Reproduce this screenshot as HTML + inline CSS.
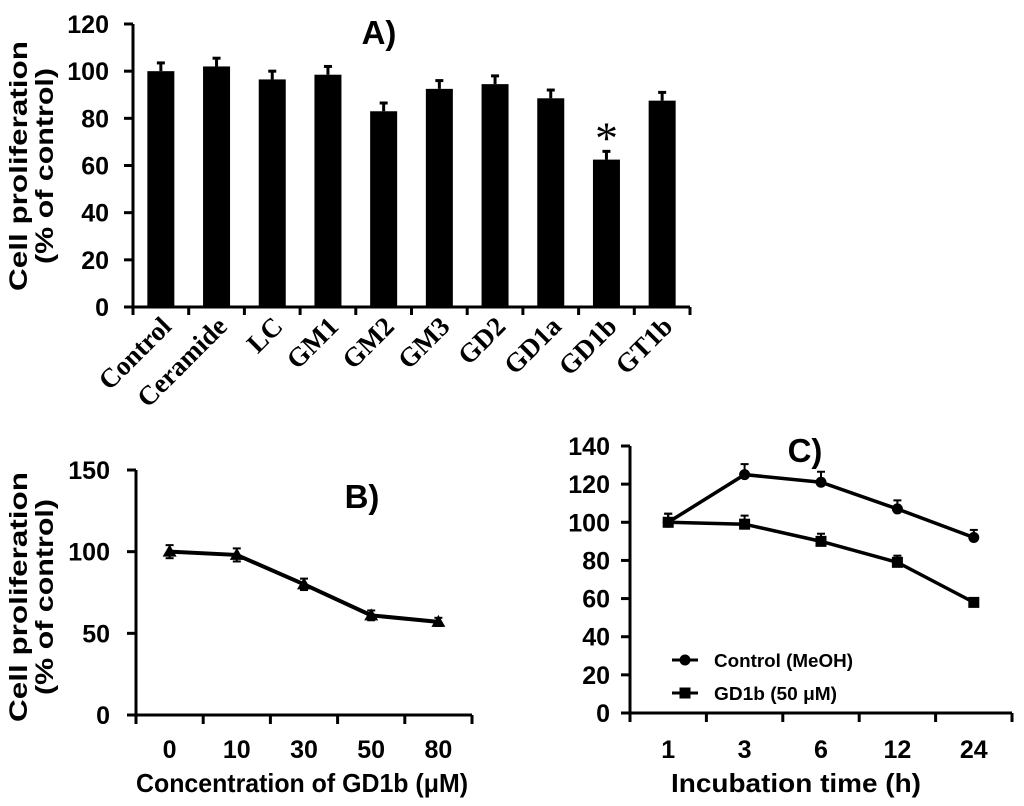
<!DOCTYPE html>
<html><head><meta charset="utf-8"><style>
body{margin:0;background:#fff;}
svg{display:block;font-family:"Liberation Sans","Noto Sans CJK KR",sans-serif;font-weight:bold;}
</style></head><body>
<svg id="fig" width="1024" height="806" viewBox="0 0 1024 806" xmlns="http://www.w3.org/2000/svg"></svg>
<script>
// Panel A data
const catsA = ["Control","Ceramide","LC","GM1","GM2","GM3","GD2","GD1a","GD1b","GT1b"];
const valsA = [100,102,96.5,98.5,83,92.5,94.5,88.5,62.5,87.5];
const errA = [3.5,3.5,3.5,3.5,3.5,3.5,3.5,3.5,3.5,3.5];
const ticksA = [0,20,40,60,80,100,120];
// Panel B data
const catsB = ["0","10","30","50","80"];
const valsB = [100,98,80,61,57];
const errB = [4,4,3.5,3,2.5];
const ticksB = [0,50,100,150];
// Panel C data
const catsC = ["1","3","6","12","24"];
const ctrlC = [100,125,121,107,92];
const ctrlErr = [4.5,5.5,5.5,4.5,4];
const gdC = [100,99,90,79,58];
const gdErr = [4.5,4.5,4,3.5,2];
const ticksC = [0,20,40,60,80,100,120,140];

const NS="http://www.w3.org/2000/svg";
const svg=document.getElementById('fig');
function el(tag,attrs,parent){const e=document.createElementNS(NS,tag);for(const k in attrs)e.setAttribute(k,attrs[k]);(parent||svg).appendChild(e);return e;}
function txt(s,attrs,parent){const e=el('text',attrs,parent);e.textContent=s;return e;}
function ytitle(g,cx,cy){
  const t=txt('',{transform:`translate(${cx} ${cy}) rotate(-90)`,'text-anchor':'middle','font-size':25},g);
  el('tspan',{x:0,y:0,textLength:250,lengthAdjust:'spacingAndGlyphs'},t).textContent='Cell proliferation';
  el('tspan',{x:0,y:26,textLength:196,lengthAdjust:'spacingAndGlyphs'},t).textContent='(% of control)';
  return t;
}

// ---------- Panel A ----------
const gA=el('g',{});


const ax0=133, axEnd=690, ay0=307, ayTop=24;
const yA=v=>ay0-(v/120)*(ay0-ayTop);
const stepA=(axEnd-ax0)/catsA.length;
const xA=i=>ax0+stepA*(i+0.5);
ticksA.forEach(t=>{
  el('line',{x1:ax0-9,x2:ax0,y1:yA(t),y2:yA(t),stroke:'#000','stroke-width':3},gA);
  const l=txt(String(t),{x:ax0-24,y:yA(t)+9,'text-anchor':'end','font-size':25},gA);
  
  
});
catsA.forEach((c,i)=>{
  const x=xA(i), w=27;
  el('line',{x1:x,x2:x,y1:yA(valsA[i]+errA[i]),y2:yA(valsA[i]),stroke:'#000','stroke-width':3},gA);
  el('line',{x1:x-4,x2:x+4,y1:yA(valsA[i]+errA[i]),y2:yA(valsA[i]+errA[i]),stroke:'#000','stroke-width':3},gA);
  const b=el('rect',{x:x-w/2,y:yA(valsA[i]),width:w,height:ay0-yA(valsA[i]),fill:'#000'},gA);
  
  
  const lx=x+12, ly=328;
  const l=txt(c,{x:lx,y:ly,'text-anchor':'end','font-size':27,'font-family':'"Liberation Serif",serif',transform:`rotate(-45 ${lx} ${ly})`},gA);
  
  
});
for(let i=0;i<=catsA.length;i++){el('line',{x1:ax0+stepA*i,x2:ax0+stepA*i,y1:ay0,y2:ay0+8,stroke:'#000','stroke-width':3},gA);}
el('line',{x1:ax0,x2:ax0,y1:ayTop,y2:ay0,stroke:'#000','stroke-width':3},gA);
el('line',{x1:ax0-9,x2:axEnd,y1:ay0,y2:ay0,stroke:'#000','stroke-width':3},gA);
const star=txt('*',{x:xA(8),y:yA(valsA[8]+errA[8])+2,'text-anchor':'middle','font-size':46,'font-weight':'normal','font-family':'"Liberation Serif",serif'},gA);


const tA=txt('A)',{x:379,y:44,'text-anchor':'middle','font-size':33},gA);


const yt=ytitle(gA,27,166);



// ---------- Panel B ----------
const gB=el('g',{});


const bx0=136,bxEnd=472,by0=715,byTop=470;
const yB=v=>by0-(v/150)*(by0-byTop);
const stepB=(bxEnd-bx0)/catsB.length;
const xB=i=>bx0+stepB*(i+0.5);
ticksB.forEach(t=>{
  el('line',{x1:bx0-9,x2:bx0,y1:yB(t),y2:yB(t),stroke:'#000','stroke-width':3},gB);
  const l=txt(String(t),{x:bx0-26,y:yB(t)+9,'text-anchor':'end','font-size':25},gB);
  
  
});
for(let i=0;i<=catsB.length;i++){el('line',{x1:bx0+stepB*i,x2:bx0+stepB*i,y1:by0,y2:by0+9,stroke:'#000','stroke-width':3},gB);}
el('line',{x1:bx0,x2:bx0,y1:byTop,y2:by0,stroke:'#000','stroke-width':3},gB);
el('line',{x1:bx0-9,x2:bxEnd,y1:by0,y2:by0,stroke:'#000','stroke-width':3},gB);
const lnB=el('polyline',{points:valsB.map((v,i)=>xB(i)+','+yB(v)).join(' '),fill:'none',stroke:'#000','stroke-width':4},gB);


valsB.forEach((v,i)=>{
  const x=xB(i),y=yB(v);
  el('line',{x1:x,x2:x,y1:yB(v+errB[i]),y2:yB(v-errB[i]),stroke:'#000','stroke-width':2},gB);
  el('line',{x1:x-4,x2:x+4,y1:yB(v+errB[i]),y2:yB(v+errB[i]),stroke:'#000','stroke-width':2},gB);
  el('line',{x1:x-4,x2:x+4,y1:yB(v-errB[i]),y2:yB(v-errB[i]),stroke:'#000','stroke-width':2},gB);
  const m=el('polygon',{points:`${x},${y-7} ${x-7},${y+5} ${x+7},${y+5}`,fill:'#000'},gB);
  
  
  const l=txt(catsB[i],{x:x,y:758,'text-anchor':'middle','font-size':25},gB);
  
  
});
const tB=txt('B)',{x:362,y:508,'text-anchor':'middle','font-size':33},gB);


const xtB=txt('Concentration of GD1b (μM)',{x:302,y:792,'text-anchor':'middle','font-size':26,textLength:332,lengthAdjust:'spacingAndGlyphs'},gB);


const ytB=ytitle(gB,27,597);



// ---------- Panel C ----------
const gC=el('g',{});


const cx0=630,cxEnd=1012,cy0=713,cyTop=446;
const yC=v=>cy0-(v/140)*(cy0-cyTop);
const stepC=(cxEnd-cx0)/catsC.length;
const xC=i=>cx0+stepC*(i+0.5);
ticksC.forEach(t=>{
  el('line',{x1:cx0-9,x2:cx0,y1:yC(t),y2:yC(t),stroke:'#000','stroke-width':3},gC);
  const l=txt(String(t),{x:cx0-20,y:yC(t)+9,'text-anchor':'end','font-size':25},gC);
  
  
});
for(let i=0;i<=catsC.length;i++){el('line',{x1:cx0+stepC*i,x2:cx0+stepC*i,y1:cy0,y2:cy0+9,stroke:'#000','stroke-width':3},gC);}
el('line',{x1:cx0,x2:cx0,y1:cyTop,y2:cy0,stroke:'#000','stroke-width':3},gC);
el('line',{x1:cx0-9,x2:cxEnd,y1:cy0,y2:cy0,stroke:'#000','stroke-width':3},gC);
function series(vals,errs,shape,name){
  const p=el('polyline',{points:vals.map((v,i)=>xC(i)+','+yC(v)).join(' '),fill:'none',stroke:'#000','stroke-width':3.5},gC);
  
  
  vals.forEach((v,i)=>{
    const x=xC(i),y=yC(v);
    el('line',{x1:x,x2:x,y1:yC(v+errs[i]),y2:y,stroke:'#000','stroke-width':2},gC);
    el('line',{x1:x-4,x2:x+4,y1:yC(v+errs[i]),y2:yC(v+errs[i]),stroke:'#000','stroke-width':2},gC);
    const m=shape==='c'?el('circle',{cx:x,cy:y,r:5.5,fill:'#000'},gC):el('rect',{x:x-5.5,y:y-5.5,width:11,height:11,fill:'#000'},gC);
    
    
  });
}
series(ctrlC,ctrlErr,'c','control-meoh');
series(gdC,gdErr,'s','gd1b-50um');
catsC.forEach((c,i)=>{
  const l=txt(c,{x:xC(i),y:758,'text-anchor':'middle','font-size':25},gC);
  
  
});
const tC=txt('C)',{x:805,y:462,'text-anchor':'middle','font-size':33},gC);


const xtC=txt('Incubation time (h)',{x:796,y:792,'text-anchor':'middle','font-size':26,textLength:250,lengthAdjust:'spacingAndGlyphs'},gC);


const lg1=el('g',{},gC);


el('line',{x1:672,x2:698,y1:660,y2:660,stroke:'#000','stroke-width':3},lg1);
el('circle',{cx:685,cy:660,r:5.5,fill:'#000'},lg1);
txt('Control (MeOH)',{x:714,y:667,'font-size':18,textLength:139,lengthAdjust:'spacingAndGlyphs'},lg1);
const lg2=el('g',{},gC);


el('line',{x1:672,x2:698,y1:693,y2:693,stroke:'#000','stroke-width':3},lg2);
el('rect',{x:679.5,y:687.5,width:11,height:11,fill:'#000'},lg2);
txt('GD1b (50 μM)',{x:714,y:700,'font-size':18,textLength:123,lengthAdjust:'spacingAndGlyphs'},lg2);
</script>
</body></html>
